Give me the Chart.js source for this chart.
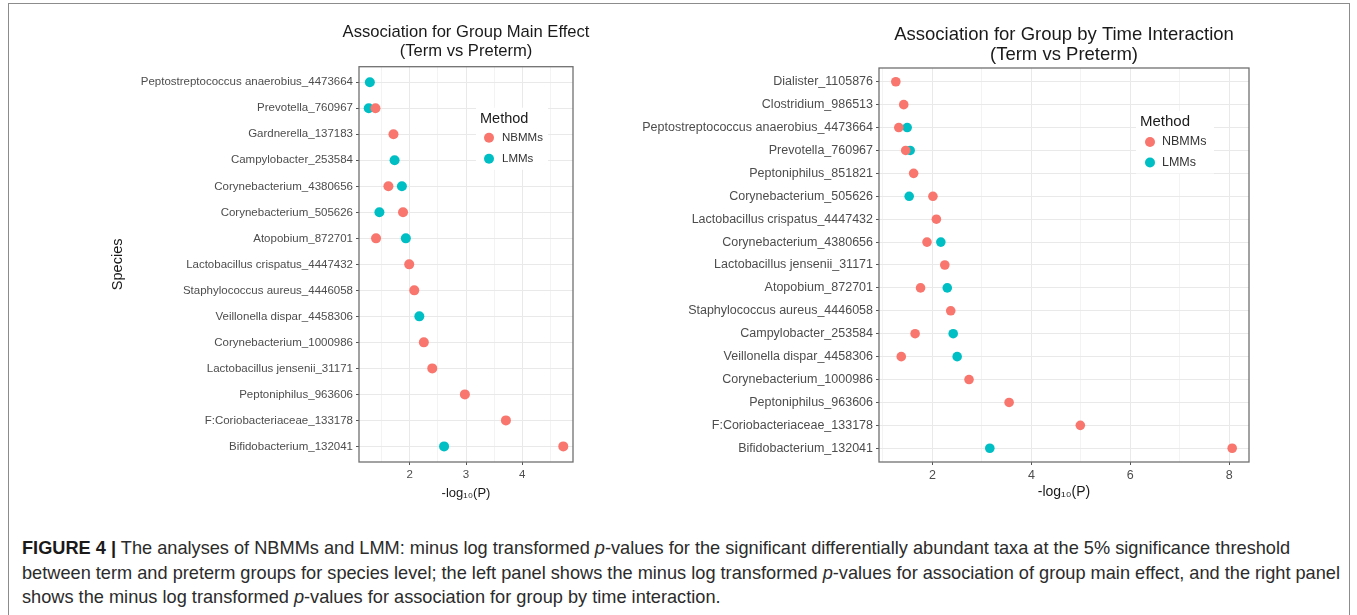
<!DOCTYPE html>
<html>
<head>
<meta charset="utf-8">
<script src="https://cdn.jsdelivr.net/npm/chart.js@4.4.1/dist/chart.umd.min.js"></script>
<style>
  html, body { margin: 0; padding: 0; background: #fff; }
  body { width: 1357px; height: 615px; position: relative; overflow: hidden; font-family: "Liberation Sans", Arial, sans-serif; }
  #frame { position: absolute; left: 8px; top: 3px; width: 1342px; height: 700px; border: 1px solid #8c8c8c; box-sizing: border-box; }
  #mainChart { position: absolute; left: 0; top: 0; }
  #interChart { position: absolute; left: 610px; top: 0; }
  #caption { position: absolute; left: 22px; top: 536px; font-size: 18.2px; line-height: 24.5px; color: #2b2b2b; white-space: nowrap; }
  #caption b { color: #1a1a1a; }
</style>
</head>
<body>
<div id="frame"></div>
<canvas id="mainChart" width="610" height="520"></canvas>
<canvas id="interChart" width="747" height="520"></canvas>
<div id="caption">
  <b>FIGURE 4</b> <b>|</b> The analyses of NBMMs and LMM: minus log transformed <i>p</i>-values for the significant differentially abundant taxa at the 5% significance threshold<br>
  between term and preterm groups for species level; the left panel shows the minus log transformed <i>p</i>-values for association of group main effect, and the right panel<br>
  shows the minus log transformed <i>p</i>-values for association for group by time interaction.
</div>
<script>
// Method names and colours (ggplot default hues)
const methodLabels = ['NBMMs', 'LMMs'];
const methodColors = ['#F8766D', '#00BFC4'];

// Group main effect: species (top to bottom) and -log10(P) per method
const mainSpecies = [
  'Peptostreptococcus anaerobius_4473664', 'Prevotella_760967', 'Gardnerella_137183',
  'Campylobacter_253584', 'Corynebacterium_4380656', 'Corynebacterium_505626',
  'Atopobium_872701', 'Lactobacillus crispatus_4447432', 'Staphylococcus aureus_4446058',
  'Veillonella dispar_4458306', 'Corynebacterium_1000986', 'Lactobacillus jensenii_31171',
  'Peptoniphilus_963606', 'F:Coriobacteriaceae_133178', 'Bifidobacterium_132041'
];
const mainNBMM = [null, 1.39, 1.71, null, 1.62, 1.88, 1.40, 1.99, 2.08, null, 2.25, 2.40, 2.98, 3.71, 4.73];
const mainLMM  = [1.29, 1.27, null, 1.73, 1.86, 1.46, 1.93, null, null, 2.17, null, null, null, null, 2.61];
const mainXTicks = [2, 3, 4];

// Group by time interaction: species (top to bottom) and -log10(P) per method
const interSpecies = [
  'Dialister_1105876', 'Clostridium_986513', 'Peptostreptococcus anaerobius_4473664',
  'Prevotella_760967', 'Peptoniphilus_851821', 'Corynebacterium_505626',
  'Lactobacillus crispatus_4447432', 'Corynebacterium_4380656', 'Lactobacillus jensenii_31171',
  'Atopobium_872701', 'Staphylococcus aureus_4446058', 'Campylobacter_253584',
  'Veillonella dispar_4458306', 'Corynebacterium_1000986', 'Peptoniphilus_963606',
  'F:Coriobacteriaceae_133178', 'Bifidobacterium_132041'
];
const interNBMM = [1.26, 1.42, 1.32, 1.46, 1.62, 2.01, 2.08, 1.89, 2.25, 1.76, 2.37, 1.65, 1.37, 2.74, 3.55, 4.99, 8.06];
const interLMM  = [null, null, 1.49, 1.55, null, 1.53, null, 2.17, null, 2.30, null, 2.42, 2.50, null, null, null, 3.16];
const interXTicks = [2, 4, 6, 8];

const FONT = '"Liberation Sans", Arial, sans-serif';
Chart.defaults.font.family = FONT;

// Panel title (centred over the panel, allowed to run wider than it),
// panel border and the inset "Method" legend
const panelDecor = {
  id: 'panelDecor',
  afterDraw(chart, args, o) {
    const a = chart.chartArea, ctx = chart.ctx;
    ctx.save();
    ctx.strokeStyle = o.frameColor;
    ctx.lineWidth = o.frameWidth;
    ctx.strokeRect(a.left, a.top, a.right - a.left, a.bottom - a.top);

    // title lines
    ctx.fillStyle = '#1a1a1a';
    ctx.textAlign = 'center';
    ctx.textBaseline = 'middle';
    ctx.font = o.titleSize + 'px ' + FONT;
    const cx = (a.left + a.right) / 2;
    o.titleLines.forEach((t, i) => ctx.fillText(t, cx, o.titleY + i * o.titleLH));

    // legend
    const x0 = a.right + o.dx, y0 = a.top + o.dy;
    const ds = chart.data.datasets;
    ctx.fillStyle = '#ffffff';
    ctx.fillRect(x0 - 4, y0 - 11, o.boxW, o.gap + (ds.length - 1) * o.rowH + 22);
    ctx.textAlign = 'left';
    ctx.fillStyle = '#1a1a1a';
    ctx.font = o.legTitleSize + 'px ' + FONT;
    ctx.fillText(o.legTitle, x0, y0);
    ctx.font = o.labelSize + 'px ' + FONT;
    ds.forEach((d, i) => {
      const cy = y0 + o.gap + i * o.rowH;
      ctx.beginPath();
      ctx.arc(x0 + o.dotDx, cy, o.dotR, 0, Math.PI * 2);
      ctx.fillStyle = d.backgroundColor;
      ctx.fill();
      ctx.fillStyle = '#333333';
      ctx.fillText(d.label, x0 + o.textDx, cy);
    });
    ctx.restore();
  }
};

function points(species, values) {
  const out = [];
  species.forEach((s, i) => { if (values[i] !== null) out.push({ x: values[i], y: i }); });
  return out;
}

function buildPanel(canvasId, p) {
  const all = p.nbmm.concat(p.lmm).filter(v => v !== null);
  const lo = Math.min(...all), hi = Math.max(...all);
  const pad = (hi - lo) * 0.05;
  const step = p.xTicks[1] - p.xTicks[0];
  const xMin = lo - pad, xMax = hi + pad;
  const gridVals = [];
  for (let v = p.xTicks[0] - step / 2; v <= xMax; v += step / 2) {
    if (v >= xMin) gridVals.push(Math.round(v * 1000) / 1000);
  }
  const isMajor = v => p.xTicks.includes(v);
  const n = p.species.length;

  return new Chart(document.getElementById(canvasId), {
    type: 'scatter',
    data: {
      datasets: [
        { label: methodLabels[0], data: points(p.species, p.nbmm), backgroundColor: methodColors[0],
          pointRadius: p.r, pointHoverRadius: p.r, borderWidth: 0 },
        { label: methodLabels[1], data: points(p.species, p.lmm), backgroundColor: methodColors[1],
          pointRadius: p.r, pointHoverRadius: p.r, borderWidth: 0 }
      ]
    },
    options: {
      responsive: false,
      animation: false,
      devicePixelRatio: 1,
      layout: { padding: { left: p.padL, right: p.padR, top: p.padT, bottom: p.padB } },
      plugins: {
        legend: { display: false },
        tooltip: { enabled: false },
        title: { display: false },
        panelDecor: Object.assign({ frameColor: '#707070', frameWidth: 1.3, legTitle: 'Method' }, p.decor)
      },
      scales: {
        x: {
          type: 'linear', min: xMin, max: xMax,
          afterBuildTicks: s => { s.ticks = gridVals.map(v => ({ value: v })); },
          afterFit: s => { s.height = p.xAxisH; },
          ticks: {
            autoSkip: false, maxRotation: 0, padding: 3, color: '#4d4d4d',
            font: { size: p.tickSize },
            callback: v => isMajor(v) ? String(v) : ''
          },
          grid: {
            color: c => (c.tick && isMajor(c.tick.value)) ? '#e9e9e9' : '#f3f3f3',
            lineWidth: 1,
            tickLength: 3,
            tickWidth: 1,
            tickColor: c => (c.tick && isMajor(c.tick.value)) ? '#555555' : 'rgba(0,0,0,0)'
          },
          border: { display: false },
          title: { display: true, text: '-log\u2081\u2080(P)', color: '#1a1a1a', font: { size: p.axisTitleSize }, padding: 0 }
        },
        y: {
          type: 'linear', reverse: true, min: -0.6, max: n - 0.4,
          afterBuildTicks: s => { s.ticks = p.species.map((_, i) => ({ value: i })); },
          afterFit: s => { s.width = p.yAxisW; },
          ticks: {
            autoSkip: false, padding: 3, color: '#4d4d4d',
            font: { size: p.labelSize },
            callback: v => p.species[v]
          },
          grid: { color: '#e9e9e9', lineWidth: 1, tickLength: 3, tickWidth: 1, tickColor: '#555555' },
          border: { display: false },
          title: { display: !!p.yTitle, text: p.yTitle || '', color: '#1a1a1a', font: { size: 14.5 }, padding: 0 }
        }
      }
    },
    plugins: [panelDecor]
  });
}

buildPanel('mainChart', {
  species: mainSpecies, nbmm: mainNBMM, lmm: mainLMM, xTicks: mainXTicks,
  padL: 109, padR: 37, padT: 66.7, padB: 19, yAxisW: 250, xAxisH: 39,
  labelSize: 11.5, tickSize: 11.5, axisTitleSize: 13, r: 5, yTitle: 'Species',
  decor: {
    titleLines: ['Association for Group Main Effect', '(Term vs Preterm)'],
    titleSize: 16.6, titleY: 32.7, titleLH: 19,
    dx: -93, dy: 52, gap: 19, rowH: 21, dotDx: 9, textDx: 22, dotR: 5, boxW: 72,
    legTitleSize: 14.5, labelSize: 11.5
  }
});

buildPanel('interChart', {
  species: interSpecies, nbmm: interNBMM, lmm: interLMM, xTicks: interXTicks,
  padL: 0, padR: 108, padT: 68, padB: 19, yAxisW: 269, xAxisH: 39,
  labelSize: 12.5, tickSize: 12.5, axisTitleSize: 14, r: 4.8, yTitle: null,
  decor: {
    titleLines: ['Association for Group by Time Interaction', '(Term vs Preterm)'],
    titleSize: 18.5, titleY: 35, titleLH: 20,
    dx: -109, dy: 54, gap: 20, rowH: 20.5, dotDx: 10, textDx: 22, dotR: 5, boxW: 78,
    legTitleSize: 15, labelSize: 12.5
  }
});
</script>
</body>
</html>
